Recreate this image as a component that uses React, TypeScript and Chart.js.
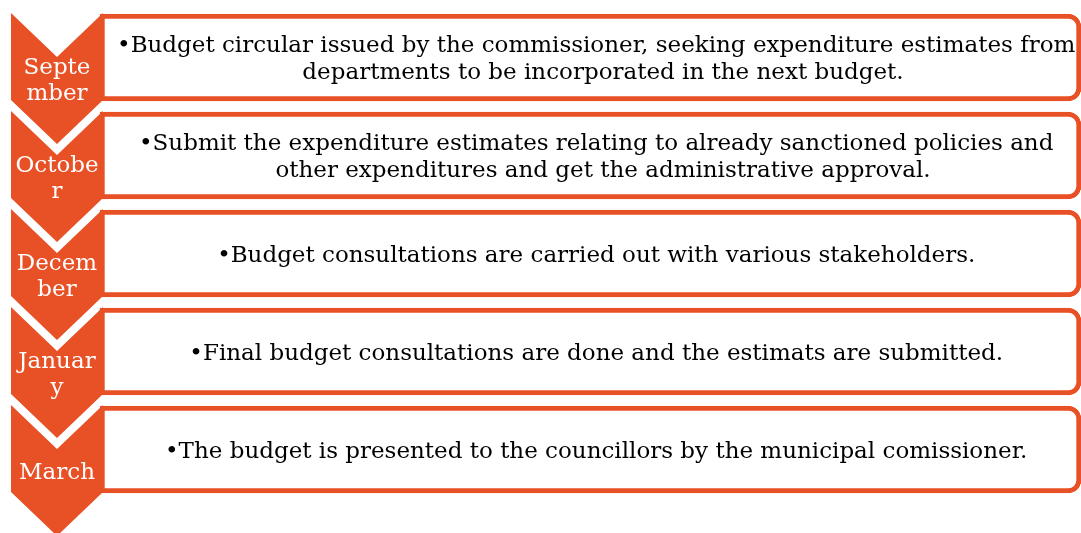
import React, { useEffect, useRef } from "react";
import { Chart, registerables } from "chart.js";

Chart.register(...registerables);

// ---- data ----
const monthLabels: string[][] = [
  ["Septe", "mber"],
  ["Octobe", "r"],
  ["Decem", "ber"],
  ["Januar", "y"],
  ["March"],
];

const stepDescriptions: string[][] = [
  [
    "Budget circular issued by the commissioner, seeking expenditure estimates from",
    "departments to be incorporated in the next budget.",
  ],
  [
    "Submit the expenditure estimates relating to already sanctioned policies and",
    "other expenditures and get the administrative approval.",
  ],
  ["Budget consultations are carried out with various stakeholders."],
  ["Final budget consultations are done and the estimats are submitted."],
  ["The budget is presented to the councillors by the municipal comissioner."],
];

// box spans along the x scale (floating bars)
const boxStart: number[] = [100, 100, 100, 100, 100];
const boxEnd: number[] = [1081, 1081, 1081, 1081, 1081];

const ORANGE = "#E85026";
const W = 1081;
const H = 533;

export default function App() {
  const canvasRef = useRef<HTMLCanvasElement | null>(null);

  useEffect(() => {
    document.body.style.margin = "0";
    const canvas = canvasRef.current;
    if (!canvas) return;

    const chevronPlugin = {
      id: "chevronList",
      afterDatasetsDraw(chart: any) {
        const ctx = chart.ctx as CanvasRenderingContext2D;
        const xs = chart.scales.x;
        const ys = chart.scales.y;
        const L = xs.getPixelForValue(11);
        const R = xs.getPixelForValue(103);
        const cx = (L + R) / 2;
        const depth = 44;
        const side = 87;
        ctx.save();
        monthLabels.forEach((lines, i) => {
          const cy = ys.getPixelForValue(i);
          const T = cy - 44.5;
          ctx.beginPath();
          ctx.moveTo(L, T);
          ctx.lineTo(cx, T + depth);
          ctx.lineTo(R, T);
          ctx.lineTo(R, T + side);
          ctx.lineTo(cx, T + side + depth);
          ctx.lineTo(L, T + side);
          ctx.closePath();
          ctx.fillStyle = ORANGE;
          ctx.fill();

          const mid = T + (side + depth) / 2;
          ctx.fillStyle = "#ffffff";
          ctx.font = '23px "DejaVu Serif"';
          ctx.textAlign = "center";
          ctx.textBaseline = "alphabetic";
          const n = lines.length;
          lines.forEach((ln, j) => {
            ctx.fillText(ln, cx, mid + 8 - (n - 1) * 13 + j * 26);
          });
        });

        // description text in boxes
        ctx.font = '23px "DejaVu Serif"';
        ctx.fillStyle = "#000000";
        ctx.textAlign = "left";
        const textCenter = xs.getPixelForValue(603);
        stepDescriptions.forEach((lines, i) => {
          const cy = ys.getPixelForValue(i);
          const n = lines.length;
          lines.forEach((ln, j) => {
            const w = ctx.measureText(ln).width;
            const x0 = textCenter - w / 2;
            const yb = cy + 8 - (n - 1) * 13.5 + j * 27;
            if (j === 0) {
              const bw = ctx.measureText("\u2022").width;
              ctx.fillText("\u2022", x0 - bw, yb);
            }
            ctx.fillText(ln, x0, yb);
          });
        });
        ctx.restore();
      },
    };

    const chart = new Chart(canvas, {
      type: "bar",
      data: {
        labels: monthLabels.map((l) => l.join("")),
        datasets: [
          {
            data: boxStart.map((s, i) => [s, boxEnd[i]]) as any,
            backgroundColor: "#ffffff",
            borderColor: ORANGE,
            borderWidth: 5,
            borderSkipped: false,
            borderRadius: { topLeft: 0, bottomLeft: 0, topRight: 13, bottomRight: 13 },
            barThickness: 87,
          },
        ],
      },
      options: {
        indexAxis: "y",
        responsive: false,
        animation: false,
        events: [],
        layout: { padding: { top: 8.5, bottom: 34.5, left: 0, right: 0 } },
        plugins: { legend: { display: false }, tooltip: { enabled: false } },
        scales: {
          x: { type: "linear", min: 0, max: W, display: false },
          y: { type: "category", offset: true, display: false },
        },
      },
      plugins: [chevronPlugin],
    });

    return () => chart.destroy();
  }, []);

  return (
    <div style={{ width: W, height: H, background: "#ffffff" }}>
      <canvas ref={canvasRef} width={W} height={H} style={{ display: "block" }} />
    </div>
  );
}
